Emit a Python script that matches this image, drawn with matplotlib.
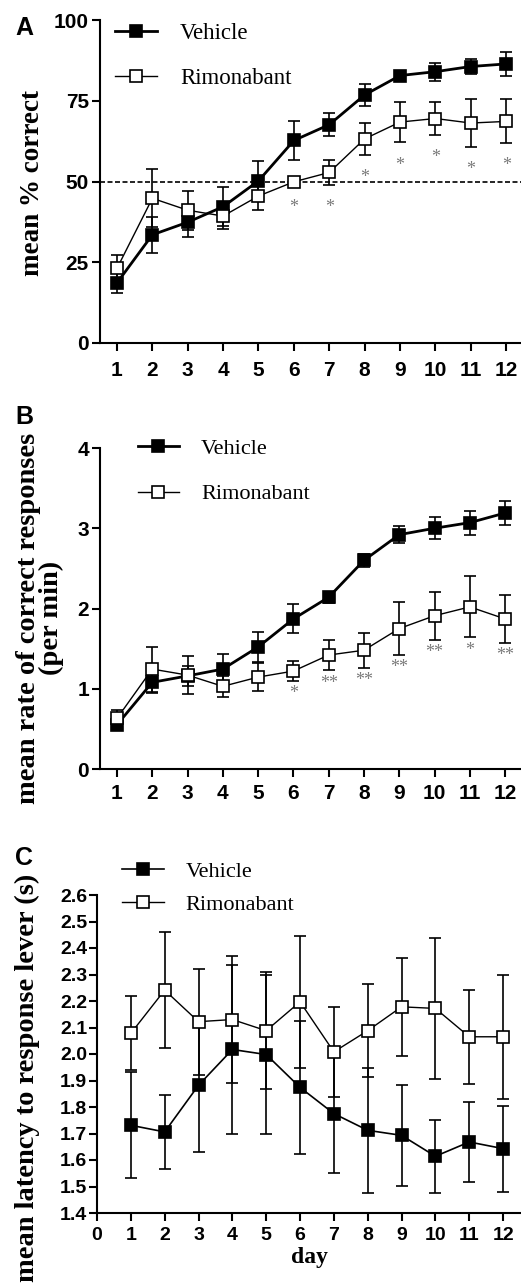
import matplotlib
matplotlib.use("Agg")
import matplotlib.pyplot as plt

# days of training
days = list(range(1, 13))

# panel A: mean % correct
acc_veh = [18.6, 33.5, 37.4, 42.2, 50.2, 62.7, 67.6, 76.8, 82.8, 84.0, 85.6, 86.4]
acc_veh_sem = [3.0, 5.6, 4.6, 6.0, 6.0, 6.0, 3.5, 3.5, 1.5, 2.8, 2.3, 3.6]
acc_rim = [23.1, 44.8, 41.1, 39.3, 45.5, 49.9, 52.8, 63.2, 68.4, 69.5, 68.1, 68.6]
acc_rim_sem = [4.2, 9.0, 6.0, 4.0, 4.4, 1.0, 3.8, 5.0, 6.3, 5.2, 7.4, 6.8]
acc_sig = ['', '', '', '', '', '*', '*', '*', '*', '*', '*', '*']
chance = 50

# panel B: rate of correct responses (per min)
rate_veh = [0.55, 1.08, 1.16, 1.245, 1.52, 1.87, 2.14, 2.60, 2.92, 3.00, 3.07, 3.19]
rate_veh_sem = [0.05, 0.13, 0.12, 0.19, 0.19, 0.18, 0.07, 0.08, 0.11, 0.14, 0.15, 0.15]
rate_rim = [0.63, 1.245, 1.17, 1.03, 1.145, 1.22, 1.42, 1.48, 1.75, 1.91, 2.02, 1.87]
rate_rim_sem = [0.10, 0.28, 0.24, 0.13, 0.17, 0.12, 0.19, 0.22, 0.33, 0.30, 0.38, 0.30]
rate_sig = ['', '', '', '', '', '*', '**', '**', '**', '**', '*', '**']

# panel C: latency to response lever (s)
lat_veh = [1.731, 1.706, 1.882, 2.017, 1.998, 1.874, 1.775, 1.712, 1.693, 1.614, 1.668, 1.643]
lat_veh_sem = [0.20, 0.14, 0.25, 0.32, 0.30, 0.25, 0.225, 0.236, 0.19, 0.137, 0.15, 0.162]
lat_rim = [2.078, 2.241, 2.122, 2.13, 2.088, 2.197, 2.008, 2.088, 2.178, 2.172, 2.065, 2.065]
lat_rim_sem = [0.14, 0.22, 0.20, 0.24, 0.22, 0.25, 0.17, 0.176, 0.185, 0.265, 0.178, 0.233]

SANS = 'Liberation Sans'
SERIF = 'Liberation Serif'

W, H = 521, 1287
fig = plt.figure(figsize=(W / 100, H / 100), dpi=100)


def px_axes(left, top, right, bottom):
    return fig.add_axes([left / W, 1 - bottom / H, (right - left) / W, (bottom - top) / H])


def style(ax, tick_size):
    for s in ['top', 'right']:
        ax.spines[s].set_visible(False)
    for s in ['left', 'bottom']:
        ax.spines[s].set_linewidth(1.5)
    ax.tick_params(direction='out', length=6, width=1.5)
    for lab in ax.get_xticklabels() + ax.get_yticklabels():
        lab.set_fontfamily(SANS)
        lab.set_fontweight('bold')
        lab.set_fontsize(tick_size)


def draw(ax, veh, veh_sem, rim, rim_sem, veh_lw):
    ax.errorbar(days, veh, yerr=veh_sem, fmt='none', ecolor='black',
                elinewidth=1.2, capsize=4.5, capthick=1.2, zorder=3, clip_on=False)
    ax.errorbar(days, rim, yerr=rim_sem, fmt='none', ecolor='black',
                elinewidth=1.2, capsize=4.5, capthick=1.2, zorder=3, clip_on=False)
    lv, = ax.plot(days, veh, color='black', lw=veh_lw, marker='s', ms=9,
                  mfc='black', mec='black', mew=1.2, zorder=4, clip_on=False,
                  label='Vehicle')
    lr, = ax.plot(days, rim, color='black', lw=1.0, marker='s', ms=9,
                  mfc='white', mec='black', mew=1.2, zorder=5, clip_on=False,
                  label='Rimonabant')
    return lv, lr


def stars(ax, rim, rim_sem, sig, offset, size):
    for d, m, e, s in zip(days, rim, rim_sem, sig):
        if s:
            ax.text(d, m - e - offset, s, ha='center', va='center',
                    fontsize=size, color='#7a7a7a', family=SERIF, zorder=6)


# ---- panel A ----
axA = px_axes(100, 20, 521, 343)
lv, lr = draw(axA, acc_veh, acc_veh_sem, acc_rim, acc_rim_sem, 2.0)
axA.axhline(chance, color='black', lw=1.2, ls=(0, (3, 1.5)), zorder=1)
stars(axA, acc_rim, acc_rim_sem, acc_sig, 7.0, 13)
axA.set_xlim(0.52, 12.42)
axA.set_ylim(0, 100)
axA.set_xticks(days)
axA.set_yticks([0, 25, 50, 75, 100])
axA.tick_params(axis='x', pad=7)
axA.tick_params(axis='y', pad=2)
style(axA, 15)
axA.legend(handles=[lv, lr], loc='upper left', bbox_to_anchor=(0.035, 0.99),
           frameon=False, handlelength=1.85, handletextpad=1.0, labelspacing=1.02,
           borderaxespad=0, borderpad=0, prop={'family': SERIF, 'size': 16.5})

# ---- panel B ----
axB = px_axes(100, 448, 521, 769)
lv, lr = draw(axB, rate_veh, rate_veh_sem, rate_rim, rate_rim_sem, 2.0)
stars(axB, rate_rim, rate_rim_sem, rate_sig, 0.16, 13)
axB.set_xlim(0.52, 12.45)
axB.set_ylim(0, 4)
axB.set_xticks(days)
axB.set_yticks([0, 1, 2, 3, 4])
axB.tick_params(axis='x', pad=5)
axB.tick_params(axis='y', pad=2)
style(axB, 15)
axB.legend(handles=[lv, lr], loc='upper left', bbox_to_anchor=(0.09, 1.03),
           frameon=False, handlelength=1.85, handletextpad=1.0, labelspacing=1.12,
           borderaxespad=0, borderpad=0, prop={'family': SERIF, 'size': 16})

# ---- panel C ----
axC = px_axes(97, 895, 521, 1213)
lv, lr = draw(axC, lat_veh, lat_veh_sem, lat_rim, lat_rim_sem, 1.2)
axC.set_xlim(0, 12.53)
axC.set_ylim(1.4, 2.6)
axC.set_xticks(range(0, 13))
axC.set_yticks([1.4 + 0.1 * i for i in range(13)])
axC.set_yticklabels([f'{1.4 + 0.1 * i:.1f}' for i in range(13)])
axC.tick_params(axis='x', pad=4)
axC.tick_params(axis='y', pad=1)
style(axC, 14)
axC.legend(handles=[lv, lr], loc='upper left', bbox_to_anchor=(0.06, 1.107),
           frameon=False, handlelength=1.85, handletextpad=1.0, labelspacing=0.59,
           borderaxespad=0, borderpad=0, prop={'family': SERIF, 'size': 16})
axC.set_xlabel('day', family=SERIF, fontweight='bold', fontsize=17, labelpad=2)

# y labels and panel letters
fig.text(33 / W, 1 - 183 / H, 'mean % correct', rotation=90, ha='center', va='center',
         family=SERIF, fontweight='bold', fontsize=19.5)
fig.text(40 / W, 1 - 618 / H, 'mean rate of correct responses\n(per min)', rotation=90,
         ha='center', va='center', family=SERIF, fontweight='bold', fontsize=20.5,
         linespacing=0.9, multialignment='center')
fig.text(27 / W, 1 - 1078 / H, 'mean latency to response lever (s)', rotation=90,
         ha='center', va='center', family=SERIF, fontweight='bold', fontsize=20.5)

for letter, y in [('A', 28), ('B', 417), ('C', 858)]:
    fig.text(24 / W, 1 - y / H, letter, ha='center', va='center',
             family=SANS, fontweight='bold', fontsize=18)

fig.savefig('out.png', dpi=100)
